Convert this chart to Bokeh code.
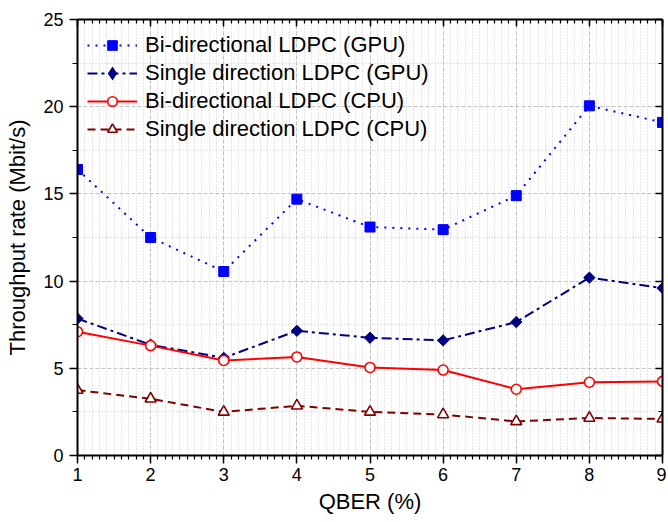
from bokeh.plotting import figure
from bokeh.models import LinearAxis, FixedTicker, Legend, LegendItem
from bokeh.embed import file_html
from bokeh.resources import INLINE
import numpy as np

# ---- data ----
qber = [1, 2, 3, 4, 5, 6, 7, 8, 9]
bi_gpu = [16.4, 12.5, 10.55, 14.7, 13.1, 12.95, 14.9, 20.05, 19.1]
single_gpu = [7.85, 6.35, 5.6, 7.15, 6.75, 6.6, 7.65, 10.2, 9.6]
bi_cpu = [7.1, 6.3, 5.45, 5.65, 5.05, 4.9, 3.8, 4.2, 4.25]
single_cpu = [3.75, 3.25, 2.5, 2.85, 2.5, 2.35, 1.95, 2.15, 2.1]

labels = ["Bi-directional LDPC (GPU)", "Single direction LDPC (GPU)",
          "Bi-directional LDPC (CPU)", "Single direction LDPC (CPU)"]

x_ticks = [1, 2, 3, 4, 5, 6, 7, 8, 9]
x_minor = [round(v, 1) for v in np.arange(1.0, 9.01, 0.1)]
y_ticks = [0, 5, 10, 15, 20, 25]
y_minor = [2.5, 7.5, 12.5, 17.5, 22.5]

FONT = "Liberation Sans"

p = figure(width=666, height=520, x_range=(1, 9), y_range=(0, 25),
           output_backend="svg", toolbar_location=None,
           min_border_left=77, min_border_right=4, min_border_top=19, min_border_bottom=65,
           x_axis_label="QBER (%)", y_axis_label="Throughput rate (Mbit/s)")
p.outline_line_color = None
p.background_fill_color = "white"

xt = FixedTicker(ticks=x_ticks, minor_ticks=x_minor)
yt = FixedTicker(ticks=y_ticks, minor_ticks=y_minor)
p.xaxis.ticker = xt
p.yaxis.ticker = yt

for ax in (p.xaxis[0], p.yaxis[0]):
    ax.axis_line_width = 2
    ax.axis_line_color = "black"
    ax.major_tick_line_width = 1.5
    ax.minor_tick_line_width = 1.2
    ax.major_tick_in = 0
    ax.major_tick_out = 8
    ax.minor_tick_in = 0
    ax.minor_tick_out = 4
    ax.major_label_text_font = FONT
    ax.major_label_text_font_size = "18px"
    ax.major_label_text_color = "black"
    ax.axis_label_text_font = FONT
    ax.axis_label_text_font_size = "22px"
    ax.axis_label_text_font_style = "normal"
    ax.axis_label_text_color = "black"

p.yaxis[0].minor_tick_out = 5
p.xaxis[0].major_label_standoff = 4
p.xaxis[0].axis_label_standoff = 5
p.yaxis[0].major_label_standoff = 6
p.yaxis[0].axis_label_standoff = 10

# mirrored axes (ticks inside, no labels)
top = LinearAxis(ticker=FixedTicker(ticks=x_ticks, minor_ticks=x_minor))
right = LinearAxis(ticker=FixedTicker(ticks=y_ticks, minor_ticks=y_minor))
for ax in (top, right):
    ax.axis_line_width = 2
    ax.axis_line_color = "black"
    ax.major_tick_in = 7
    ax.major_tick_out = 0
    ax.minor_tick_in = 4
    ax.minor_tick_out = 0
    ax.major_tick_line_width = 1.5
    ax.minor_tick_line_width = 1.2
    ax.major_label_text_font_size = "0px"
    ax.major_label_standoff = 0
p.add_layout(top, "above")
p.add_layout(right, "right")

# grids
for g in (p.xgrid[0], p.ygrid[0]):
    g.grid_line_color = "#c4c4c4"
    g.grid_line_dash = "4 2"
    g.grid_line_width = 1
    g.minor_grid_line_color = "#cccccc"
    g.minor_grid_line_dash = "1 2"
    g.minor_grid_line_width = 1

# series
l1 = p.line(qber, bi_gpu, line_color="#0000ff", line_width=2, line_dash="2 6")
s1 = p.scatter(qber, bi_gpu, marker="square", size=10, fill_color="#0000ff", line_color="#0000ff")

l2 = p.line(qber, single_gpu, line_color="#000080", line_width=2, line_dash="10 4 3 4")
s2 = p.scatter(qber, single_gpu, marker="square", angle=np.pi / 4, size=8,
               fill_color="#000080", line_color="#000080")
# legend-only diamond (legend glyphs ignore marker angle)
s2_leg = p.scatter(qber, single_gpu, marker="diamond", size=12, fill_color="#000080",
                   line_color="#000080", line_width=2.5, line_join="miter", visible=False)

l3 = p.line(qber, bi_cpu, line_color="#ff0000", line_width=2)
s3 = p.scatter(qber, bi_cpu, marker="circle", size=10, fill_color="white",
               line_color="#ff0000", line_width=1.6)

l4 = p.line(qber, single_cpu, line_color="#800000", line_width=2, line_dash="8 5")
s4 = p.scatter(qber, single_cpu, marker="triangle", size=11, fill_color="white",
               line_color="#800000", line_width=1.6)

legend = Legend(items=[LegendItem(label=labels[0], renderers=[l1, s1]),
                       LegendItem(label=labels[1], renderers=[l2, s2_leg]),
                       LegendItem(label=labels[2], renderers=[l3, s3]),
                       LegendItem(label=labels[3], renderers=[l4, s4])],
                location=(10, 313), glyph_width=50, glyph_height=24, label_height=24,
                label_standoff=8, spacing=2, padding=0, margin=0,
                background_fill_alpha=0, border_line_alpha=0, inactive_fill_alpha=0,
                label_text_font=FONT, label_text_font_size="22px", label_text_color="black")
p.add_layout(legend)

open("out.html", "w").write(file_html(p, INLINE))
